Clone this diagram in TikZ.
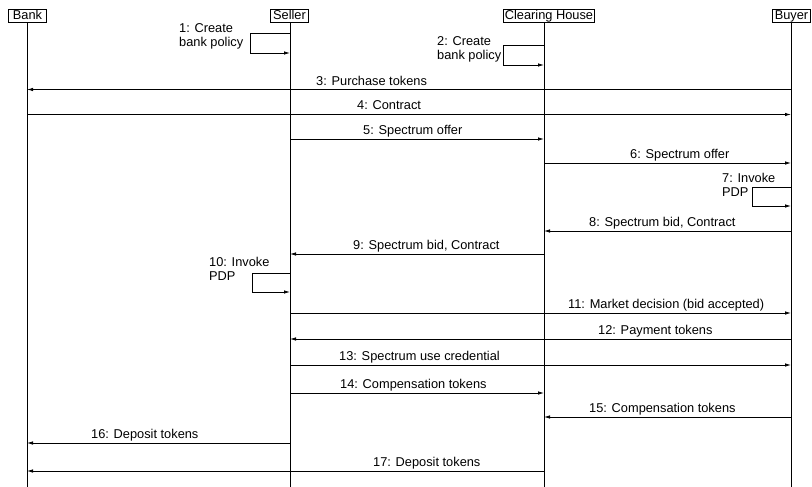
\documentclass[tikz,border=0pt]{standalone}
\usepackage{fontspec}
\setmainfont{Liberation Sans}
\usetikzlibrary{arrows.meta}
\tikzset{
  actor/.style={draw, line width=0.8pt, inner xsep=1.5pt, inner ysep=0.5pt, text height=9.4pt, text depth=2.6pt, minimum width=38pt, font=\fontsize{12.8}{15}\selectfont},
  lifeline/.style={line width=0.8pt},
  msg/.style={line width=0.8pt, -{Latex[length=6pt,width=3.5pt]}},
  lbl/.style={anchor=base west, inner sep=0pt, font=\fontsize{12.8}{15}\selectfont},
}
\begin{document}
\begin{tikzpicture}[x=1pt,y=-1pt]
\useasboundingbox (0,0) rectangle (812,487);
% participants
\node[actor] (bank) at (27.5,16) {Bank};
\node[actor] (seller) at (289.5,16) {Seller};
\node[actor] (ch) at (549,16) {Clearing House};
\node[actor] (buyer) at (791.5,16) {Buyer};
% lifeline ends
\coordinate (bankEnd) at (27,487);
\coordinate (sellerEnd) at (290,487);
\coordinate (chEnd) at (544,487);
\coordinate (buyerEnd) at (791,487);
\draw[lifeline] (bankEnd |- bank.south) -- (bankEnd);
\draw[lifeline] (sellerEnd |- seller.south) -- (sellerEnd);
\draw[lifeline] (chEnd |- ch.south) -- (chEnd);
\draw[lifeline] (buyerEnd |- buyer.south) -- (buyerEnd);

% 1: self loop seller
\draw[msg] (sellerEnd |- 0,33) -- (250,33) -- (250,53) -- (sellerEnd |- 0,53);
\node[lbl] (l1a) at (179,32.7) {1: Create};
\node[lbl] (l1b) at (179,46.7) {bank policy};
% 2: self loop clearing house
\draw[msg] (chEnd |- 0,45) -- (503,45) -- (503,65) -- (chEnd |- 0,65);
\node[lbl] (l2a) at (437,46) {2: Create};
\node[lbl] (l2b) at (437,60) {bank policy};
% 3
\draw[msg] (buyerEnd |- 0,89.5) -- (bankEnd |- 0,89.5);
\node[lbl] (l3) at (316,85) {3: Purchase tokens};
% 4
\draw[msg] (bankEnd |- 0,114.5) -- (buyerEnd |- 0,114.5);
\node[lbl] (l4) at (357,110) {4: Contract};
% 5
\draw[msg] (sellerEnd |- 0,139) -- (chEnd |- 0,139);
\node[lbl] (l5) at (363,134.5) {5: Spectrum offer};
% 6
\draw[msg] (chEnd |- 0,163) -- (buyerEnd |- 0,163);
\node[lbl] (l6) at (630,158.5) {6: Spectrum offer};
% 7: self loop buyer
\draw[msg] (buyerEnd |- 0,187) -- (752,187) -- (752,206) -- (buyerEnd |- 0,206);
\node[lbl] (l7a) at (722,182.5) {7: Invoke};
\node[lbl] (l7b) at (722,196.6) {PDP};
% 8
\draw[msg] (buyerEnd |- 0,231) -- (chEnd |- 0,231);
\node[lbl] (l8) at (589,226.5) {8: Spectrum bid, Contract};
% 9
\draw[msg] (chEnd |- 0,254) -- (sellerEnd |- 0,254);
\node[lbl] (l9) at (353,249.5) {9: Spectrum bid, Contract};
% 10: self loop seller
\draw[msg] (sellerEnd |- 0,273) -- (252,273) -- (252,292) -- (sellerEnd |- 0,292);
\node[lbl] (l10a) at (209,266.7) {10: Invoke};
\node[lbl] (l10b) at (209,280) {PDP};
% 11
\draw[msg] (sellerEnd |- 0,313) -- (buyerEnd |- 0,313);
\node[lbl] (l11) at (568,308.5) {11: Market decision (bid accepted)};
% 12
\draw[msg] (buyerEnd |- 0,339) -- (sellerEnd |- 0,339);
\node[lbl] (l12) at (598,334.5) {12: Payment tokens};
% 13
\draw[msg] (sellerEnd |- 0,365) -- (buyerEnd |- 0,365);
\node[lbl] (l13) at (339,360.5) {13: Spectrum use credential};
% 14
\draw[msg] (sellerEnd |- 0,393) -- (chEnd |- 0,393);
\node[lbl] (l14) at (340,388.5) {14: Compensation tokens};
% 15
\draw[msg] (buyerEnd |- 0,417) -- (chEnd |- 0,417);
\node[lbl] (l15) at (589,412.5) {15: Compensation tokens};
% 16
\draw[msg] (sellerEnd |- 0,443) -- (bankEnd |- 0,443);
\node[lbl] (l16) at (91,438.5) {16: Deposit tokens};
% 17
\draw[msg] (chEnd |- 0,471) -- (bankEnd |- 0,471);
\node[lbl] (l17) at (373,466.5) {17: Deposit tokens};
\end{tikzpicture}
\end{document}
